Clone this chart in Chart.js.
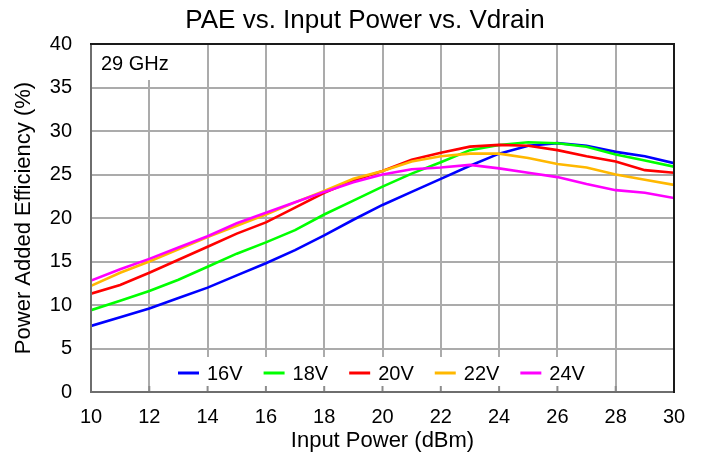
<!DOCTYPE html>
<html>
<head>
<meta charset="utf-8">
<script src="https://cdn.jsdelivr.net/npm/chart.js@4.4.1/dist/chart.umd.min.js"></script>
<style>
  html, body { margin: 0; padding: 0; background: #ffffff; }
  #wrap { width: 702px; height: 455px; }
</style>
</head>
<body>
<div id="wrap"><canvas id="paeChart" width="702" height="455"></canvas></div>
<script>
// Daten
const inputPower = [10, 11, 12, 13, 14, 15, 16, 17, 18, 19, 20, 21, 22, 23, 24, 25, 26, 27, 28, 29, 30];
const pae16V = [7.6, 8.6, 9.6, 10.8, 12.0, 13.4, 14.8, 16.3, 18.0, 19.8, 21.5, 23.0, 24.5, 26.0, 27.4, 28.3, 28.6, 28.3, 27.6, 27.1, 26.3];
const pae18V = [9.4, 10.5, 11.6, 12.9, 14.4, 15.9, 17.2, 18.6, 20.4, 22.0, 23.6, 25.1, 26.4, 27.8, 28.4, 28.7, 28.6, 28.2, 27.3, 26.6, 25.9];
const pae20V = [11.3, 12.3, 13.7, 15.2, 16.7, 18.2, 19.5, 21.2, 22.9, 24.3, 25.4, 26.7, 27.5, 28.2, 28.4, 28.3, 27.8, 27.1, 26.5, 25.5, 25.2];
const pae22V = [12.2, 13.7, 15.0, 16.4, 17.8, 19.1, 20.4, 21.8, 23.1, 24.5, 25.4, 26.5, 27.1, 27.4, 27.4, 26.9, 26.2, 25.8, 25.0, 24.4, 23.8];
const pae24V = [12.8, 14.1, 15.3, 16.6, 17.9, 19.4, 20.6, 21.8, 23.0, 24.1, 25.0, 25.6, 25.8, 26.1, 25.7, 25.2, 24.7, 23.9, 23.2, 22.9, 22.3];
const seriesLabels = ['16V', '18V', '20V', '22V', '24V'];
const seriesColors = ['#0000ff', '#00ff00', '#ff0000', '#ffb800', '#ff00ff'];
const seriesValues = [pae16V, pae18V, pae20V, pae22V, pae24V];
const freqLabel = '29 GHz';

const FONT = "'Liberation Sans', Arial, sans-serif";

function toPoints(values) {
    return values.map((v, i) => ({ x: inputPower[i], y: v }));
}

// Titel, Rahmen, Beschriftung und Legende im Diagramm
const overlayPlugin = {
    id: 'overlay',
    afterDatasetsDraw(chart) {
        const { ctx, chartArea: a } = chart;
        const xs = chart.scales.x;
        ctx.save();

        // Kasten "29 GHz"
        ctx.fillStyle = '#ffffff';
        ctx.fillRect(a.left + 1, a.top + 1, 88, 35);
        ctx.fillStyle = '#000000';
        ctx.font = '20px ' + FONT;
        ctx.textBaseline = 'middle';
        ctx.textAlign = 'left';
        ctx.fillText(freqLabel, 101, 64);

        // Legende
        ctx.fillStyle = '#ffffff';
        ctx.fillRect(168, 357, 430, a.bottom - 357);
        let x = 178;
        const ly = 373;
        chart.data.datasets.forEach(ds => {
            ctx.strokeStyle = ds.borderColor;
            ctx.lineWidth = 3;
            ctx.beginPath();
            ctx.moveTo(x, ly);
            ctx.lineTo(x + 21, ly);
            ctx.stroke();
            ctx.fillStyle = '#000000';
            ctx.fillText(ds.label, x + 29, ly + 1);
            x += 29 + ctx.measureText(ds.label).width + 21;
        });

        // Teilstriche innen an der x-Achse
        ctx.strokeStyle = '#8c8c8c';
        ctx.lineWidth = 2;
        xs.ticks.forEach(t => {
            const px = xs.getPixelForValue(t.value);
            ctx.beginPath();
            ctx.moveTo(px, a.bottom);
            ctx.lineTo(px, a.bottom - 6);
            ctx.stroke();
        });

        // Rahmen
        ctx.strokeStyle = '#6e6e6e';
        ctx.beginPath();
        ctx.moveTo(a.left, a.top);
        ctx.lineTo(a.left, a.bottom);
        ctx.lineTo(a.right, a.bottom);
        ctx.stroke();
        ctx.strokeStyle = '#1a1a1a';
        ctx.beginPath();
        ctx.moveTo(a.left - 1, a.top);
        ctx.lineTo(a.right, a.top);
        ctx.lineTo(a.right, a.bottom + 1);
        ctx.stroke();

        // Titel
        ctx.fillStyle = '#000000';
        ctx.font = '26px ' + FONT;
        ctx.textAlign = 'center';
        ctx.fillText('PAE vs. Input Power vs. Vdrain', 365, 21);
        ctx.restore();
    }
};

const ctx = document.getElementById('paeChart').getContext('2d');

const chart = new Chart(ctx, {
    type: 'line',
    data: {
        datasets: seriesValues.map((vals, i) => ({
            label: seriesLabels[i],
            data: toPoints(vals),
            borderColor: seriesColors[i],
            backgroundColor: seriesColors[i],
            borderWidth: 2.6,
            pointRadius: 0,
            tension: 0,
            fill: false,
            order: seriesValues.length - i
        }))
    },
    options: {
        responsive: false,
        animation: false,
        layout: {
            padding: { left: 0, right: 28, top: 44, bottom: 0 }
        },
        plugins: {
            legend: { display: false },
            title: { display: false },
            tooltip: { enabled: false }
        },
        scales: {
            x: {
                type: 'linear',
                min: 10,
                max: 30,
                afterFit: scale => { scale.height = 63; },
                ticks: {
                    stepSize: 2,
                    padding: 13,
                    color: '#000000',
                    font: { family: FONT, size: 20 }
                },
                grid: { color: '#ababab', lineWidth: 2, drawTicks: false },
                border: { display: false },
                title: {
                    display: true,
                    text: 'Input Power (dBm)',
                    color: '#000000',
                    font: { family: FONT, size: 22, lineHeight: 1.2 },
                    padding: { top: 0, bottom: 1 }
                }
            },
            y: {
                min: 0,
                max: 40,
                afterFit: scale => { scale.width = 91; },
                ticks: {
                    stepSize: 5,
                    padding: 19,
                    color: '#000000',
                    font: { family: FONT, size: 20 }
                },
                grid: { color: '#ababab', lineWidth: 2, drawTicks: false },
                border: { display: false },
                title: {
                    display: true,
                    text: 'Power Added Efficiency (%)',
                    color: '#000000',
                    font: { family: FONT, size: 22, lineHeight: 1.2 },
                    padding: { top: 11, bottom: 0 }
                }
            }
        }
    },
    plugins: [overlayPlugin]
});
</script>
</body>
</html>
